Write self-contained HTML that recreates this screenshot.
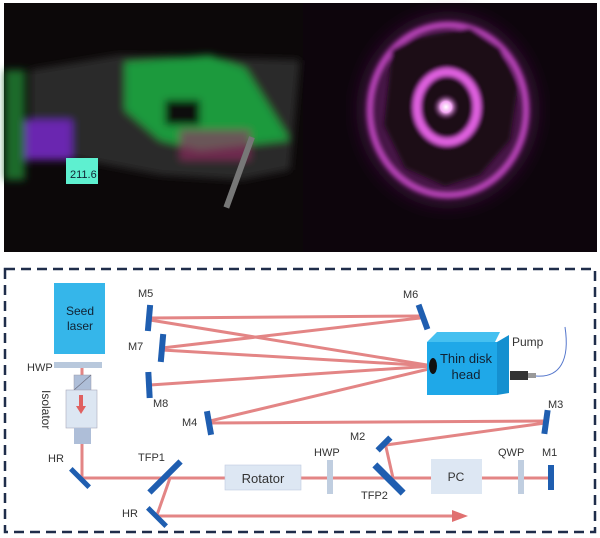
<!DOCTYPE html>
<html><head><style>
html,body{margin:0;padding:0;background:#fff;width:600px;height:538px;overflow:hidden}
svg{display:block}
text{font-family:"Liberation Sans",sans-serif;fill:#333}
</style></head><body>
<svg width="600" height="538" viewBox="0 0 600 538" xmlns="http://www.w3.org/2000/svg">
<defs>
<filter id="b4"><feGaussianBlur stdDeviation="4"/></filter>
<filter id="b2"><feGaussianBlur stdDeviation="2"/></filter>
<filter id="b10"><feGaussianBlur stdDeviation="10"/></filter>
<radialGradient id="core"><stop offset="0" stop-color="#fff"/><stop offset="0.4" stop-color="#f4a8f4"/><stop offset="1" stop-color="#3a0a3a" stop-opacity="0"/></radialGradient>
</defs>
<rect x="4" y="3" width="593" height="249" fill="#0c0809"/>
<rect x="303" y="3" width="294" height="249" fill="#0d050c"/>
<g filter="url(#b4)">
<polygon points="30,70 120,55 300,60 290,170 240,180 160,175 30,150" fill="#2a2c2a"/>
<polygon points="125,62 210,55 245,68 290,140 200,150 160,140 125,110" fill="#1c9a3c"/>
<rect x="165" y="100" width="35" height="25" fill="#111"/>
<rect x="12" y="120" width="60" height="40" fill="#6a28b0"/>
<rect x="5" y="70" width="20" height="110" fill="#1a6a2a"/>
<rect x="180" y="130" width="70" height="30" fill="#a02a6a" opacity="0.6"/>
</g>
<rect x="66" y="158" width="32" height="26" fill="#5ef0d0"/>
<text x="70" y="178" font-size="11" style="fill:#123">211.6</text>
<rect x="237" y="135" width="6" height="75" fill="#777" transform="rotate(20 240 170)"/>
<g filter="url(#b10)"><ellipse cx="448" cy="110" rx="85" ry="92" fill="#4a1448"/></g>
<g filter="url(#b2)">
<ellipse cx="448" cy="110" rx="78" ry="85" fill="none" stroke="#b040b0" stroke-width="7"/>
<polygon points="392,50 415,38 470,28 500,48 518,85 510,140 480,175 445,186 405,168 384,125" fill="#1a0818"/>
<ellipse cx="447" cy="107" rx="30" ry="35" fill="none" stroke="#e060e0" stroke-width="8"/>
</g>
<circle cx="446" cy="107" r="14" fill="url(#core)"/>
<rect x="5" y="269" width="590" height="263" fill="none" stroke="#1f2d4a" stroke-width="2.5" stroke-dasharray="10,6"/>
<g stroke="#e07878" stroke-width="3" fill="none" stroke-linecap="round" opacity="0.9">
<line x1="150" y1="318" x2="420" y2="316"/>
<line x1="150" y1="320" x2="433" y2="366"/>
<line x1="162" y1="348" x2="420" y2="318"/>
<line x1="162" y1="350" x2="433" y2="366"/>
<line x1="150" y1="385" x2="433" y2="366"/>
<line x1="210" y1="421" x2="433" y2="368"/>
<line x1="210" y1="423" x2="545" y2="421"/>
<line x1="545" y1="423" x2="386" y2="445"/>
<line x1="386" y1="447" x2="393" y2="478"/>
<line x1="82" y1="368" x2="82" y2="478"/>
<line x1="82" y1="478" x2="551" y2="478"/>
<line x1="170" y1="478" x2="157" y2="515"/>
<line x1="157" y1="516" x2="455" y2="516"/>
</g>
<polygon points="452,510 468,516 452,522" fill="#e07070"/>
<rect x="54" y="283" width="51" height="71" fill="#35b6ea"/>
<text x="80" y="315" font-size="12" text-anchor="middle" style="fill:#123">Seed</text>
<text x="80" y="330" font-size="12" text-anchor="middle" style="fill:#123">laser</text>
<rect x="54" y="362" width="48" height="6" fill="#b8c8dc"/>
<text x="27" y="371" font-size="11">HWP</text>
<rect x="74" y="375" width="17" height="15" fill="#aebed8" stroke="#99a" stroke-width="0.5"/>
<line x1="74" y1="390" x2="91" y2="375" stroke="#667" stroke-width="0.6"/>
<rect x="66" y="390" width="31" height="38" fill="#dce6f2" stroke="#aab" stroke-width="0.6"/>
<rect x="79" y="395" width="4" height="12" fill="#e06060"/>
<polygon points="76,406 86,406 81,414" fill="#e06060"/>
<rect x="74" y="428" width="17" height="16" fill="#aebed8"/>
<text x="0" y="0" font-size="12" transform="translate(42,390) rotate(90)">Isolator</text>
<g fill="#1f5eb0">
<rect x="-2.5" y="-13" width="5" height="26" transform="translate(80,478) rotate(-45)"/>
<rect x="-3" y="-22" width="6" height="44" transform="translate(165,477) rotate(45)"/>
<rect x="-2.5" y="-13" width="5" height="26" transform="translate(157,517) rotate(-45)"/>
<rect x="-3" y="-13" width="6" height="26" transform="translate(149,318) rotate(5)"/>
<rect x="-3" y="-14" width="6" height="28" transform="translate(162,348) rotate(5)"/>
<rect x="-3" y="-13" width="6" height="26" transform="translate(149,385) rotate(-3)"/>
<rect x="-3" y="-12" width="6" height="24" transform="translate(209,423) rotate(-10)"/>
<rect x="-3" y="-13" width="6" height="26" transform="translate(423,317) rotate(-20)"/>
<rect x="-3" y="-12" width="6" height="24" transform="translate(546,422) rotate(8)"/>
<rect x="-3" y="-9" width="6" height="18" transform="translate(384,444) rotate(45)"/>
<rect x="-3.5" y="-20" width="7" height="40" transform="translate(389,479) rotate(-45)"/>
<rect x="548" y="465" width="6" height="25"/>
</g>
<rect x="225" y="465" width="76" height="25" fill="#dde7f3" stroke="#c0cbe0" stroke-width="0.6"/>
<text x="263" y="483" font-size="13" text-anchor="middle">Rotator</text>
<rect x="327" y="460" width="6" height="34" fill="#c0cee0"/>
<rect x="431" y="459" width="51" height="35" fill="#dde7f3"/>
<text x="456" y="481" font-size="12" text-anchor="middle">PC</text>
<rect x="518" y="460" width="6" height="34" fill="#c0cee0"/>
<polygon points="427,342 437,332 500,332 495,342" fill="#45c0f0"/>
<rect x="427" y="342" width="70" height="53" fill="#1fa8e8"/>
<polygon points="497,342 509,335 509,393 497,395" fill="#1590d0"/>
<ellipse cx="433" cy="366" rx="4" ry="8" fill="#111"/>
<text x="466" y="363" font-size="13" text-anchor="middle" style="fill:#123">Thin disk</text>
<text x="466" y="379" font-size="13" text-anchor="middle" style="fill:#123">head</text>
<rect x="510" y="371" width="18" height="9" fill="#333"/>
<rect x="528" y="373" width="8" height="5" fill="#999"/>
<path d="M536,376 C560,378 570,360 565,327" fill="none" stroke="#5577cc" stroke-width="1"/>
<text x="512" y="346" font-size="12">Pump</text>
<g font-size="11">
<text x="138" y="297">M5</text>
<text x="128" y="350">M7</text>
<text x="153" y="407">M8</text>
<text x="182" y="426">M4</text>
<text x="403" y="298">M6</text>
<text x="548" y="408">M3</text>
<text x="350" y="440">M2</text>
<text x="314" y="456">HWP</text>
<text x="498" y="456">QWP</text>
<text x="542" y="456">M1</text>
<text x="138" y="461">TFP1</text>
<text x="361" y="499">TFP2</text>
<text x="48" y="462">HR</text>
<text x="122" y="517">HR</text>
</g>
</svg>
</body></html>
